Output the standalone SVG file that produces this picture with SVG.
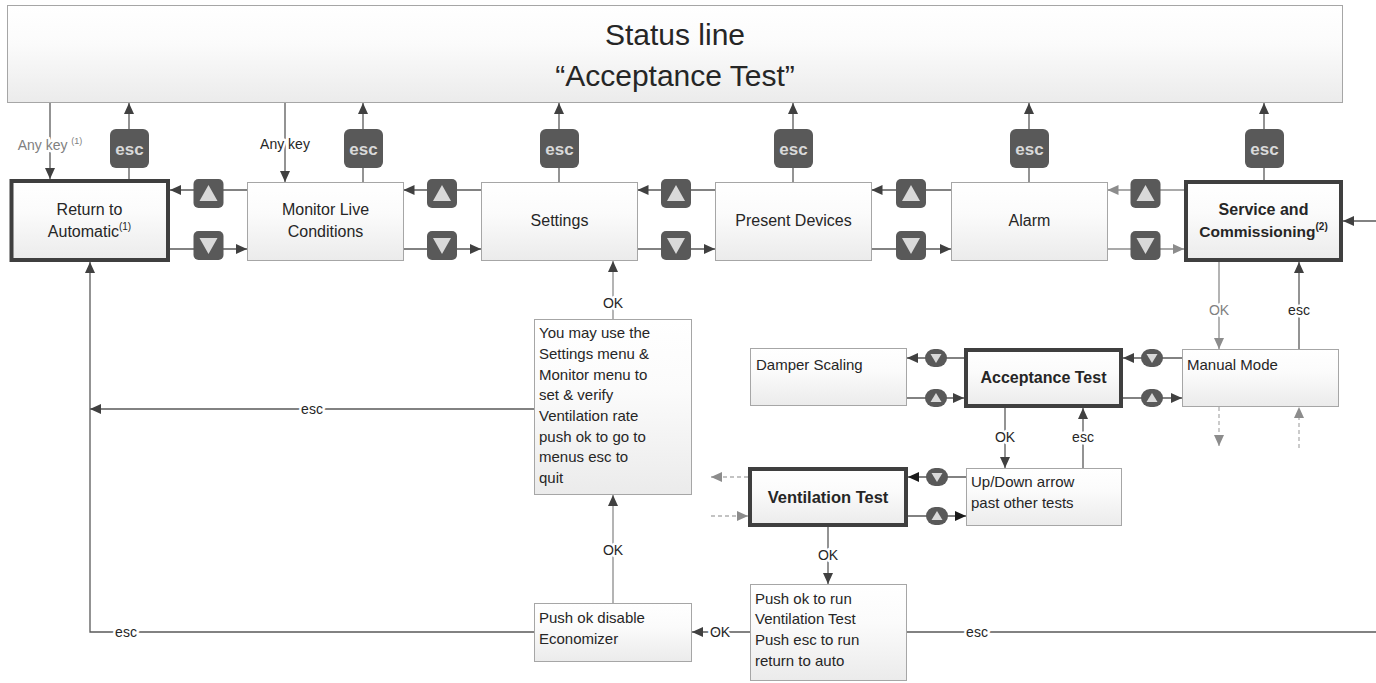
<svg xmlns="http://www.w3.org/2000/svg" xmlns:xlink="http://www.w3.org/1999/xlink" width="1376" height="683" viewBox="0 0 1376 683">
<defs>
<linearGradient id="gf" x1="0" y1="0" x2="0" y2="1">
<stop offset="0" stop-color="#ffffff"/>
<stop offset="0.4" stop-color="#fbfbfb"/>
<stop offset="1" stop-color="#ebebeb"/>
</linearGradient>
<marker id="ad" viewBox="0 0 11 10" refX="11" refY="5" markerWidth="11" markerHeight="10" markerUnits="userSpaceOnUse" orient="auto">
<path d="M0,0 L11,5 L0,10 z" fill="#404040"/>
</marker>
<marker id="ag" viewBox="0 0 11 10" refX="11" refY="5" markerWidth="11" markerHeight="10" markerUnits="userSpaceOnUse" orient="auto">
<path d="M0,0 L11,5 L0,10 z" fill="#8c8c8c"/>
</marker>
<marker id="ab" viewBox="0 0 11 10" refX="11" refY="5" markerWidth="11" markerHeight="10" markerUnits="userSpaceOnUse" orient="auto">
<path d="M0,0 L11,5 L0,10 z" fill="#1a1a1a"/>
</marker>
<g id="bUp"><rect x="0" y="0" width="30" height="29" rx="5" fill="#595959"/><polygon points="15,6 24,22 6,22" fill="#d9d9d9"/></g>
<g id="bDn"><rect x="0" y="0" width="30" height="29" rx="5" fill="#595959"/><polygon points="6,7 24,7 15,23" fill="#d9d9d9"/></g>
<g id="pUp"><rect x="0" y="0" width="22" height="18" rx="9" fill="#595959"/><polygon points="11,4 16.5,13 5.5,13" fill="#d9d9d9"/></g>
<g id="pDn"><rect x="0" y="0" width="22" height="18" rx="9" fill="#595959"/><polygon points="5.5,5 16.5,5 11,14" fill="#d9d9d9"/></g>
</defs>
<style>
text{font-family:"Liberation Sans",Arial,sans-serif;fill:#262626}
.box{fill:url(#gf);stroke:#a6a6a6;stroke-width:1}
.tbox{fill:url(#gf);stroke:#3f3f3f;stroke-width:4}
.t16{font-size:16px}
.t15{font-size:15px}
.b16{font-size:16px;font-weight:bold}
.lbl{font-size:14px;paint-order:stroke;stroke:#ffffff;stroke-width:5px;stroke-linejoin:round}
.gray{fill:#808080}
.ln{stroke:#595959;stroke-width:1.3;fill:none}
.lg{stroke:#8c8c8c;stroke-width:1.3;fill:none}
.ld{stroke:#b0b0b0;stroke-width:1.3;fill:none;stroke-dasharray:4 3}
.escb{fill:#595959}
.esct{font-size:17px;font-weight:bold;fill:#d9d9d9}
</style>

<g id="connectors">
<!-- Any key lines -->
<line class="ln" x1="50" y1="103" x2="50" y2="179" marker-end="url(#ad)"/>
<line class="ln" x1="285" y1="103" x2="285" y2="182" marker-end="url(#ad)"/>
<!-- esc lines to status -->
<line class="ln" x1="129" y1="179" x2="129" y2="103" marker-end="url(#ad)"/>
<line class="ln" x1="363" y1="182" x2="363" y2="103" marker-end="url(#ad)"/>
<line class="ln" x1="559" y1="182" x2="559" y2="103" marker-end="url(#ad)"/>
<line class="ln" x1="793" y1="182" x2="793" y2="103" marker-end="url(#ad)"/>
<line class="ln" x1="1029" y1="182" x2="1029" y2="103" marker-end="url(#ad)"/>
<line class="ln" x1="1264" y1="180" x2="1264" y2="103" marker-end="url(#ad)"/>
<!-- top row up arrows (left) -->
<line class="ln" x1="247" y1="190" x2="170" y2="190" marker-end="url(#ad)"/>
<line class="ln" x1="481" y1="190" x2="403.5" y2="190" marker-end="url(#ad)"/>
<line class="ln" x1="715" y1="190" x2="637.5" y2="190" marker-end="url(#ad)"/>
<line class="ln" x1="951" y1="190" x2="871.5" y2="190" marker-end="url(#ad)"/>
<line class="lg" x1="1184" y1="190" x2="1107.5" y2="190" marker-end="url(#ag)"/>
<!-- top row down arrows (right) -->
<line class="ln" x1="170" y1="249" x2="247" y2="249" marker-end="url(#ad)"/>
<line class="ln" x1="403.5" y1="249" x2="481" y2="249" marker-end="url(#ad)"/>
<line class="ln" x1="637.5" y1="249" x2="715" y2="249" marker-end="url(#ad)"/>
<line class="ln" x1="871.5" y1="249" x2="951" y2="249" marker-end="url(#ad)"/>
<line class="lg" x1="1107.5" y1="249" x2="1184" y2="249" marker-end="url(#ag)"/>
<!-- right edge into Service -->
<line class="ln" x1="1376" y1="221" x2="1343" y2="221" marker-end="url(#ad)"/>
<!-- Service <-> Manual -->
<line class="lg" x1="1219" y1="262" x2="1219" y2="349" marker-end="url(#ag)"/>
<line class="ln" x1="1299" y1="349" x2="1299" y2="262" marker-end="url(#ad)"/>
<!-- Manual dashed -->
<line class="ld" x1="1219" y1="407" x2="1219" y2="446" marker-end="url(#ag)"/>
<line class="ld" x1="1299" y1="448" x2="1299" y2="407" marker-end="url(#ag)"/>
<!-- Acceptance <-> Manual -->
<line class="ln" x1="1182" y1="358" x2="1123" y2="358" marker-end="url(#ad)"/>
<line class="ln" x1="1123" y1="398" x2="1182" y2="398" marker-end="url(#ad)"/>
<!-- Damper <-> Acceptance -->
<line class="ln" x1="964" y1="358" x2="907" y2="358" marker-end="url(#ad)"/>
<line class="ln" x1="907" y1="398" x2="964" y2="398" marker-end="url(#ad)"/>
<!-- Acceptance <-> Up/Down -->
<line class="ln" x1="1005" y1="408" x2="1005" y2="468" marker-end="url(#ad)"/>
<line class="ln" x1="1083" y1="468" x2="1083" y2="408" marker-end="url(#ad)"/>
<!-- Ventilation <-> Up/Down -->
<line class="ln" x1="966" y1="477" x2="908" y2="477" marker-end="url(#ab)"/>
<line class="ln" x1="908" y1="516" x2="966" y2="516" marker-end="url(#ab)"/>
<!-- Ventilation dashed -->
<line class="ld" x1="748" y1="477" x2="711" y2="477" marker-end="url(#ag)"/>
<line class="ld" x1="711" y1="516" x2="748" y2="516" marker-end="url(#ag)"/>
<!-- Ventilation OK down -->
<line class="ln" x1="828" y1="527" x2="828" y2="584" marker-end="url(#ad)"/>
<!-- Push ok run -> Push ok disable -->
<line class="ln" x1="750" y1="632" x2="692" y2="632" marker-end="url(#ad)"/>
<!-- Push ok run esc to right -->
<line class="ln" x1="907" y1="632" x2="1376" y2="632"/>
<!-- Push ok disable OK up -->
<line class="lg" x1="613" y1="603" x2="613" y2="495" marker-end="url(#ad)"/>
<!-- You may OK up to Settings -->
<line class="lg" x1="613" y1="319" x2="613" y2="261" marker-end="url(#ad)"/>
<!-- You may esc to left -->
<line class="ln" x1="534" y1="409" x2="90" y2="409" marker-end="url(#ad)"/>
<!-- bottom esc path to Return -->
<polyline class="ln" points="534,632 90,632 90,262" marker-end="url(#ad)"/>

<!-- labels -->
<text class="lbl gray" x="50" y="150" text-anchor="middle">Any key <tspan font-size="9" dy="-6">(1)</tspan></text>
<text class="lbl" x="285" y="149" text-anchor="middle">Any key</text>
<text class="lbl gray" x="1219" y="315" text-anchor="middle">OK</text>
<text class="lbl" x="1299" y="315" text-anchor="middle">esc</text>
<text class="lbl" x="1005" y="442" text-anchor="middle">OK</text>
<text class="lbl" x="1083" y="442" text-anchor="middle">esc</text>
<text class="lbl" x="828" y="560" text-anchor="middle">OK</text>
<text class="lbl" x="720" y="637" text-anchor="middle">OK</text>
<text class="lbl" x="977" y="637" text-anchor="middle">esc</text>
<text class="lbl" x="126" y="637" text-anchor="middle">esc</text>
<text class="lbl" x="613" y="555" text-anchor="middle">OK</text>
<text class="lbl" x="613" y="308" text-anchor="middle">OK</text>
<text class="lbl" x="312" y="414" text-anchor="middle">esc</text>

<!-- top row key buttons -->
<use xlink:href="#bUp" x="193.5" y="179"/>
<use xlink:href="#bDn" x="193.5" y="231"/>
<use xlink:href="#bUp" x="427" y="179"/>
<use xlink:href="#bDn" x="427" y="231"/>
<use xlink:href="#bUp" x="661" y="179"/>
<use xlink:href="#bDn" x="661" y="231"/>
<use xlink:href="#bUp" x="896" y="179"/>
<use xlink:href="#bDn" x="896" y="231"/>
<use xlink:href="#bUp" x="1130.5" y="179"/>
<use xlink:href="#bDn" x="1130.5" y="231"/>
<!-- pill buttons -->
<use xlink:href="#pDn" x="1141" y="349"/>
<use xlink:href="#pUp" x="1141" y="389"/>
<use xlink:href="#pDn" x="925" y="349"/>
<use xlink:href="#pUp" x="925" y="389"/>
<use xlink:href="#pDn" x="926" y="468"/>
<use xlink:href="#pUp" x="926" y="507"/>
<!-- esc buttons -->
<rect class="escb" x="110" y="129" width="39" height="39" rx="6"/><text class="esct" x="129.5" y="154.5" text-anchor="middle">esc</text>
<rect class="escb" x="344" y="129" width="39" height="39" rx="6"/><text class="esct" x="363.5" y="154.5" text-anchor="middle">esc</text>
<rect class="escb" x="540" y="129" width="39" height="39" rx="6"/><text class="esct" x="559.5" y="154.5" text-anchor="middle">esc</text>
<rect class="escb" x="774" y="129" width="39" height="39" rx="6"/><text class="esct" x="793.5" y="154.5" text-anchor="middle">esc</text>
<rect class="escb" x="1010" y="129" width="39" height="39" rx="6"/><text class="esct" x="1029.5" y="154.5" text-anchor="middle">esc</text>
<rect class="escb" x="1245" y="129" width="39" height="39" rx="6"/><text class="esct" x="1264.5" y="154.5" text-anchor="middle">esc</text>
</g>

<g id="status">
<rect x="7.5" y="5.5" width="1335" height="97" fill="url(#gf)" stroke="#a6a6a6" stroke-width="1"/>
<text x="675" y="45" font-size="30" text-anchor="middle">Status line</text>
<text x="675" y="86" font-size="30" text-anchor="middle">“Acceptance Test”</text>
</g>

<g id="return">
<rect class="tbox" x="11.5" y="181" width="156.5" height="79"/>
<text class="t16" x="89.5" y="215" text-anchor="middle">Return to</text>
<text class="t16" x="89.5" y="237" text-anchor="middle">Automatic<tspan font-size="10" dy="-7">(1)</tspan></text>
</g>
<g id="monitor">
<rect class="box" x="247.5" y="182.5" width="156" height="78"/>
<text class="t16" x="325.5" y="215" text-anchor="middle">Monitor Live</text>
<text class="t16" x="325.5" y="237" text-anchor="middle">Conditions</text>
</g>
<g id="settings">
<rect class="box" x="481.5" y="182.5" width="156" height="78"/>
<text class="t16" x="559.5" y="226" text-anchor="middle">Settings</text>
</g>
<g id="present">
<rect class="box" x="715.5" y="182.5" width="156" height="78"/>
<text class="t16" x="793.5" y="226" text-anchor="middle">Present Devices</text>
</g>
<g id="alarm">
<rect class="box" x="951.5" y="182.5" width="156" height="78"/>
<text class="t16" x="1029.5" y="226" text-anchor="middle">Alarm</text>
</g>
<g id="service">
<rect class="tbox" x="1186" y="182" width="155" height="78"/>
<text class="b16" x="1263.5" y="215" text-anchor="middle">Service and</text>
<text x="1263.5" y="237" text-anchor="middle" font-size="15.5" font-weight="bold">Commissioning<tspan font-size="10" dy="-7">(2)</tspan></text>
</g>
<g id="manual">
<rect class="box" x="1182.5" y="349.5" width="156" height="57"/>
<text class="t15" x="1187" y="370">Manual Mode</text>
</g>
<g id="acceptance">
<rect class="tbox" x="966" y="350" width="155" height="56"/>
<text class="b16" x="1043.5" y="383" text-anchor="middle">Acceptance Test</text>
</g>
<g id="damper">
<rect class="box" x="750.5" y="348.5" width="156" height="57"/>
<text class="t15" x="756" y="370">Damper Scaling</text>
</g>
<g id="updown">
<rect class="box" x="966.5" y="468.5" width="155" height="57"/>
<text class="t15" x="971" y="487">Up/Down arrow</text>
<text class="t15" x="971" y="508">past other tests</text>
</g>
<g id="ventilation">
<rect class="tbox" x="750" y="469" width="156" height="56"/>
<text x="828" y="503" text-anchor="middle" font-size="16.5" font-weight="bold">Ventilation Test</text>
</g>
<g id="youmay">
<rect class="box" x="534.5" y="319.5" width="157" height="175"/>
<text class="t15" x="539" y="338">You may use the</text>
<text class="t15" x="539" y="359">Settings menu &amp;</text>
<text class="t15" x="539" y="380">Monitor menu to</text>
<text class="t15" x="539" y="400">set &amp; verify</text>
<text class="t15" x="539" y="421">Ventilation rate</text>
<text class="t15" x="539" y="442">push ok to go to</text>
<text class="t15" x="539" y="462">menus esc to</text>
<text class="t15" x="539" y="483">quit</text>
</g>
<g id="disable">
<rect class="box" x="534.5" y="603.5" width="157" height="58"/>
<text class="t15" x="539" y="623">Push ok disable</text>
<text class="t15" x="539" y="644">Economizer</text>
</g>
<g id="runtest">
<rect class="box" x="750.5" y="584.5" width="156" height="96"/>
<text class="t15" x="755" y="604">Push ok to run</text>
<text class="t15" x="755" y="624">Ventilation Test</text>
<text class="t15" x="755" y="645">Push esc to run</text>
<text class="t15" x="755" y="666">return to auto</text>
</g>
</svg>
